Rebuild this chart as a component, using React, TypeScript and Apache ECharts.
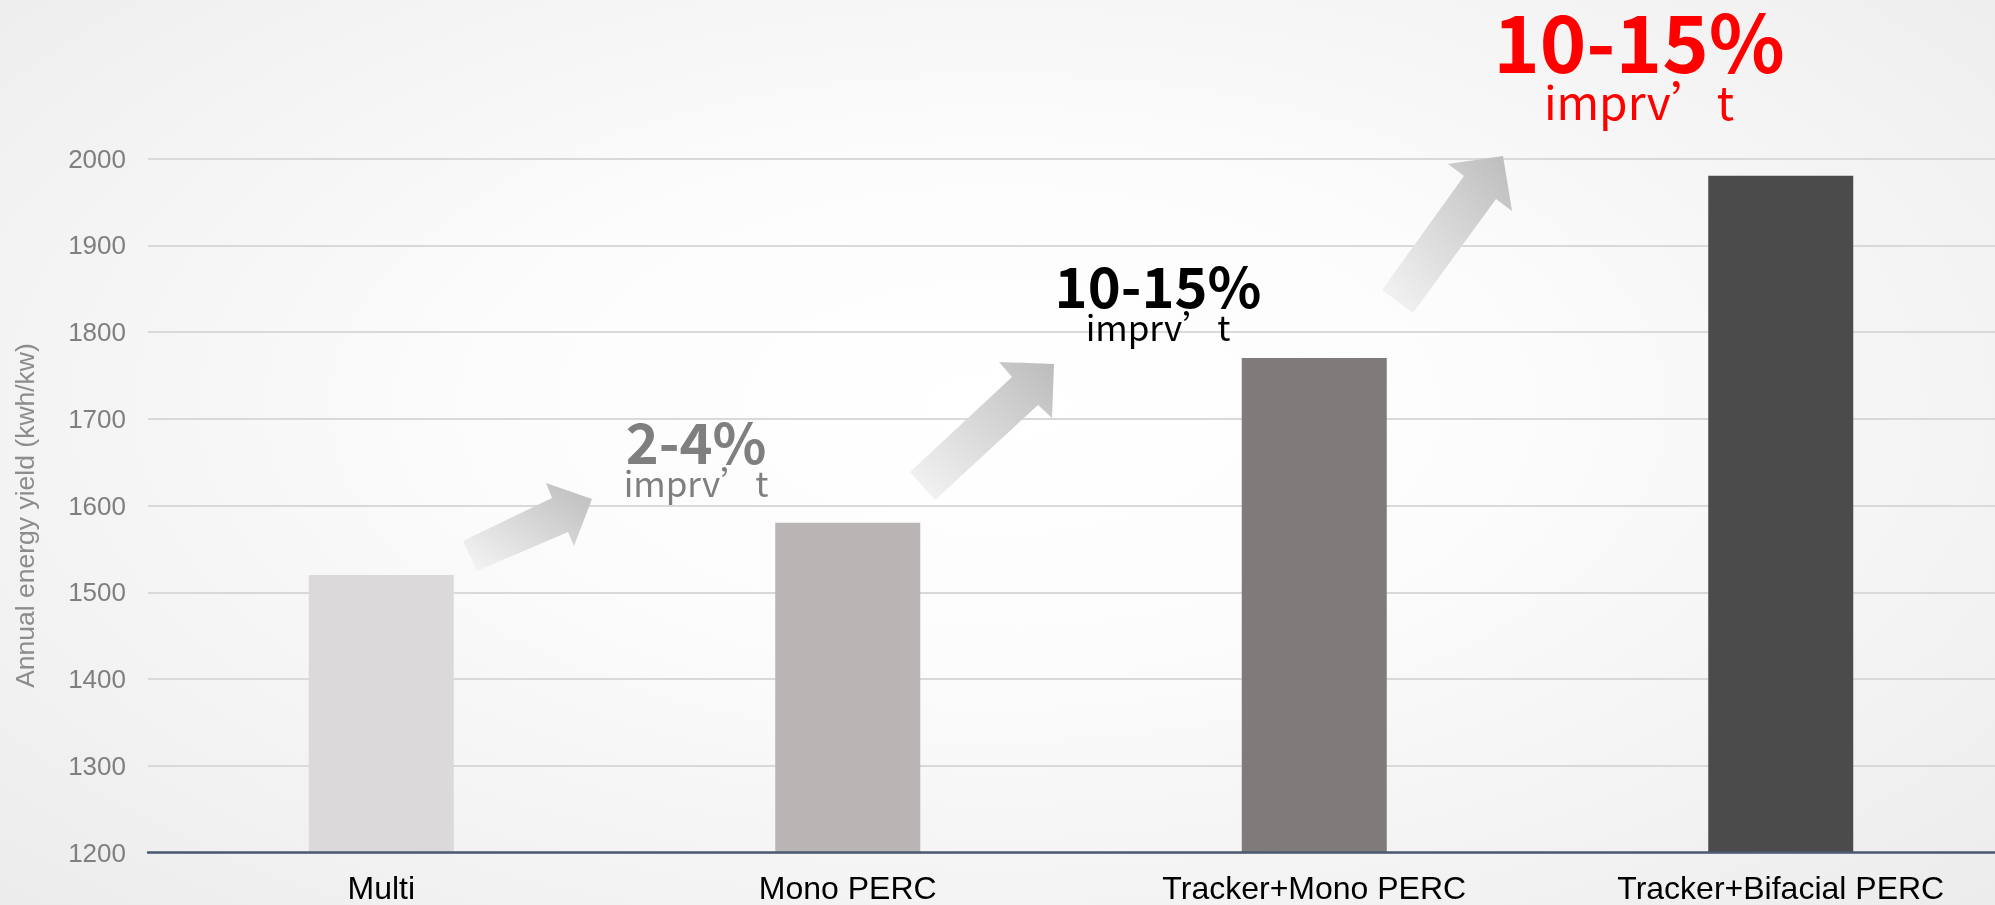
import React, { useEffect, useRef } from "react";
import * as echarts from "echarts";

const categories = ["Multi", "Mono PERC", "Tracker+Mono PERC", "Tracker+Bifacial PERC"];
const yieldValues = [1520, 1580, 1770, 1980];
const barColors = ["#dbd9da", "#b8b5b4", "#7f7b7a", "#4b4b4b"];
const yMin = 1200;
const yMax = 2000;
const yStep = 100;
const yAxisName = "Annual energy yield (kwh/kw)";
const improvementRanges = ["2-4%", "10-15%", "10-15%"];
const improvementWord = "imprv’t";

const CJK = '"Noto Sans CJK SC", "Noto Sans", sans-serif';
const LATIN = '"Liberation Sans", Arial, sans-serif';

function arrowFill() {
  return new echarts.graphic.LinearGradient(0, 1, 1, 0, [
    { offset: 0, color: "#f6f6f6" },
    { offset: 1, color: "#bcbcbc" },
  ]);
}

export default function App() {
  const ref = useRef<HTMLDivElement>(null);

  useEffect(() => {
    if (!ref.current) return;
    const chart = echarts.init(ref.current, undefined, { renderer: "svg" });

    const annotationStyles = [
      { x: 696, yTop: 439, ySub: 481, big: 56, small: 35, color: "#7f7f7f" },
      { x: 1158, yTop: 283, ySub: 325, big: 56, small: 35, color: "#000000" },
      { x: 1639, yTop: 38, ySub: 100, big: 79, small: 46, color: "#ff0000" },
    ];

    const texts: any[] = [];
    improvementRanges.forEach((t, i) => {
      const s = annotationStyles[i];
      texts.push({
        type: "text",
        x: s.x,
        y: s.yTop,
        z: 20,
        style: {
          text: t,
          fill: s.color,
          fontSize: s.big,
          lineHeight: Math.round(s.big * 0.8),
          fontWeight: "bold",
          fontFamily: CJK,
          align: "center",
          verticalAlign: "middle",
        },
      });
      texts.push({
        type: "text",
        x: s.x,
        y: s.ySub,
        z: 20,
        style: {
          text: improvementWord,
          fill: s.color,
          fontSize: s.small,
          lineHeight: Math.round(s.small * 0.9),
          fontFamily: CJK,
          align: "center",
          verticalAlign: "middle",
        },
      });
    });

    const arrows = [
      [[463, 541], [552, 498], [546, 483], [592, 499], [574, 546], [568, 532], [477, 571]],
      [[910, 472], [1012, 377], [999, 362], [1054, 364], [1052, 418], [1038, 405], [935, 500]],
      [[1382, 290], [1464, 176], [1448, 164], [1503, 156], [1512, 211], [1496, 199], [1413, 313]],
    ].map((pts) => ({
      type: "polygon",
      z: 10,
      shape: { points: pts },
      style: { fill: arrowFill() },
    }));

    chart.setOption({
      animation: false,
      backgroundColor: "transparent",
      grid: { left: 148, right: 0, top: 158.5, bottom: 52.5 },
      xAxis: {
        type: "category",
        data: categories,
        boundaryGap: true,
        axisLine: { show: true, lineStyle: { color: "#4a5a70", width: 2.5 } },
        axisTick: { show: false },
        axisLabel: { color: "#000000", fontSize: 32, fontFamily: LATIN, margin: 19 },
        z: 5,
      },
      yAxis: {
        type: "value",
        min: yMin,
        max: yMax,
        interval: yStep,
        name: yAxisName,
        nameLocation: "middle",
        nameRotate: 90,
        nameGap: 110,
        nameTextStyle: {
          color: "#8c8c8c",
          fontSize: 26.5,
          fontFamily: LATIN,
          padding: [0, 20, 0, 0],
        },
        axisLine: { show: false },
        axisTick: { show: false },
        axisLabel: {
          color: "#7f7f7f",
          fontSize: 26,
          fontFamily: LATIN,
          margin: 22,
          formatter: (v: number) => String(v),
        },
        splitLine: { show: true, lineStyle: { color: "#d9d9d9", width: 2 } },
      },
      series: [
        {
          type: "bar",
          data: yieldValues.map((v, i) => ({ value: v, itemStyle: { color: barColors[i] } })),
          barWidth: 145,
          z: 3,
        },
      ],
      graphic: [...arrows, ...texts],
    });

    return () => chart.dispose();
  }, []);

  return (
    <div
      style={{
        position: "fixed",
        left: 0,
        top: 0,
        width: 1995,
        height: 905,
        overflow: "hidden",
        background:
          "radial-gradient(ellipse at 50% 45%, #ffffff 0%, #fcfcfc 35%, #ececec 100%)",
      }}
    >
      <div ref={ref} style={{ width: 2014, height: 905 }} />
    </div>
  );
}
